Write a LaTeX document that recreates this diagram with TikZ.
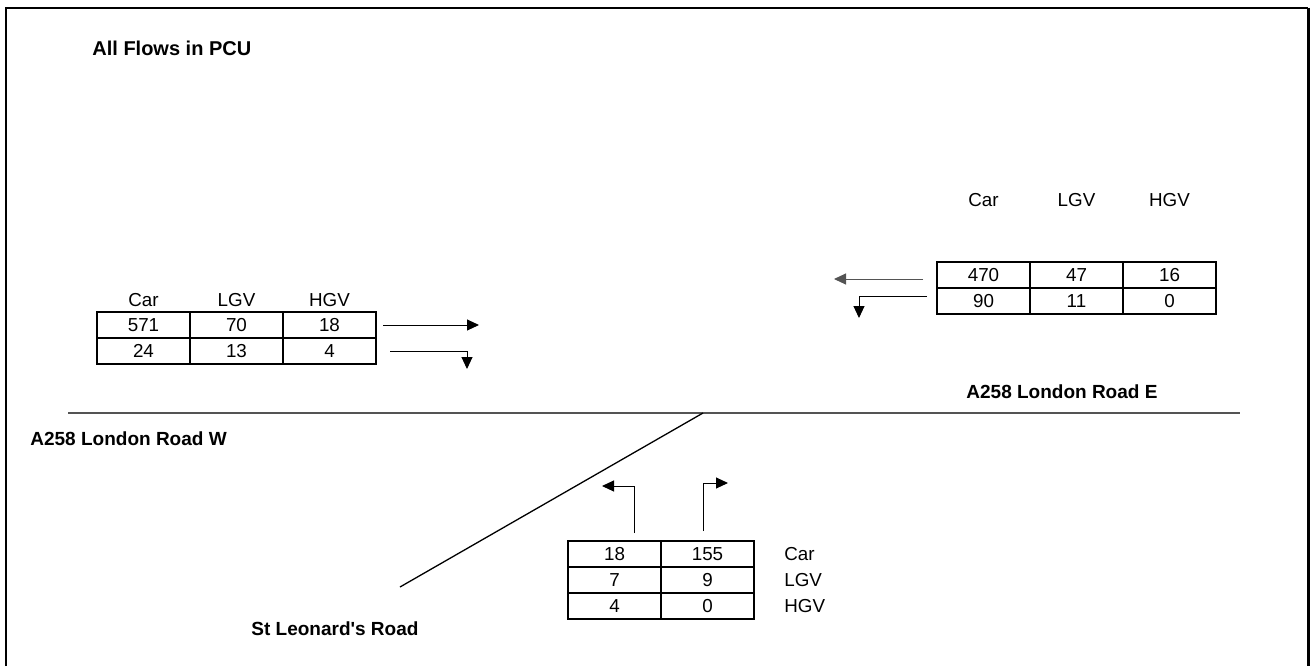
\documentclass[tikz,border=0pt]{standalone}
\usepackage{fontspec}
\setmainfont{Liberation Sans}
\usetikzlibrary{arrows.meta,positioning}
\definecolor{roadgrey}{gray}{0.33}
\tikzset{
  cell/.style={draw, line width=0.65pt, minimum width=46.5pt, minimum height=13pt, inner sep=0pt, outer sep=0pt, font=\fontsize{9.4}{11}\selectfont},
  hdr/.style={inner sep=0pt, font=\fontsize{9.4}{11}\selectfont},
  roadlabel/.style={anchor=west, inner sep=0pt, font=\bfseries\fontsize{9.5}{11}\selectfont},
  flow/.style={-{Triangle[length=6pt,width=5.5pt]}, line width=0.5pt},
  road/.style={line width=0.65pt}
}

\begin{document}
\begin{tikzpicture}[x=0.5pt, y=-0.5pt]
  \useasboundingbox (0,0) rectangle (1314,666);
  % Frame
  \draw[line width=0.75pt] (6,666) -- (6,8) -- (1308,8);
  \draw[line width=1.5pt] (1308,7.5) -- (1308,666);

  % Labels
  \node[roadlabel, font=\bfseries\fontsize{10}{12}\selectfont] (title) at (92,48) {All Flows in PCU};
  \node[roadlabel] (roadwlbl) at (30,439) {A258 London Road W};
  \node[roadlabel] (roadelbl) at (966,392) {A258 London Road E};
  \node[roadlabel] (sidelbl) at (251,629) {St Leonard\textquotesingle s Road};

  % Roads
  \coordinate (roadW) at (68,413);
  \coordinate (roadE) at (1240,413);
  \coordinate (junc) at (703,413);
  \coordinate (sideS) at (400,587);
  \draw[road, roadgrey] (roadW) -- (roadE);
  \draw[road] (junc) -- (sideS);

  % West approach
  \node[cell] (l11) at (143.5,325) {571};
  \node[cell, right=0pt of l11] (l12) {70};
  \node[cell, right=0pt of l12] (l13) {18};
  \node[cell, below=0pt of l11] (l21) {24};
  \node[cell, right=0pt of l21] (l22) {13};
  \node[cell, right=0pt of l22] (l23) {4};
  \node[hdr, above=2.5pt of l11] (lcar) {Car};
  \node[hdr, above=2.5pt of l12] (llgv) {LGV};
  \node[hdr, above=2.5pt of l13] (lhgv) {HGV};

  % East approach
  \node[cell] (r11) at (983.5,275) {470};
  \node[cell, right=0pt of r11] (r12) {47};
  \node[cell, right=0pt of r12] (r13) {16};
  \node[cell, below=0pt of r11] (r21) {90};
  \node[cell, right=0pt of r21] (r22) {11};
  \node[cell, right=0pt of r22] (r23) {0};
  \node[hdr, above=27.5pt of r11] (rcar) {Car};
  \node[hdr, above=27.5pt of r12] (rlgv) {LGV};
  \node[hdr, above=27.5pt of r13] (rhgv) {HGV};

  % Side road approach
  \node[cell] (b11) at (614.5,554) {18};
  \node[cell, right=0pt of b11] (b12) {155};
  \node[cell, below=0pt of b11] (b21) {7};
  \node[cell, right=0pt of b21] (b22) {9};
  \node[cell, below=0pt of b21] (b31) {4};
  \node[cell, right=0pt of b31] (b32) {0};
  \node[hdr, anchor=west, right=15pt of b12] (bcar) {Car};
  \node[hdr, anchor=west, right=15pt of b22] (blgv) {LGV};
  \node[hdr, anchor=west, right=15pt of b32] (bhgv) {HGV};

  % Turning movements
  \coordinate (lthru) at (479,325);
  \coordinate (lturn) at (467,369);
  \coordinate (rthru) at (834,279);
  \coordinate (rturn) at (859,318);
  \coordinate (bleft) at (602,486);
  \coordinate (bright) at (728,483);
  \draw[flow] ([xshift=3.5pt]l13.east) -- (lthru);
  \draw[flow] ([xshift=7pt]l23.east) -| (lturn);
  \draw[flow, roadgrey] ([xshift=-7pt,yshift=-2pt]r11.west) -- (rthru);
  \draw[flow] ([xshift=-5pt,yshift=2.5pt]r21.west) -| (rturn);
  \draw[flow] ([xshift=9.75pt,yshift=4pt]b11.north) |- (bleft);
  \draw[flow] ([xshift=-2.25pt,yshift=5pt]b12.north) |- (bright);
\end{tikzpicture}
\end{document}
